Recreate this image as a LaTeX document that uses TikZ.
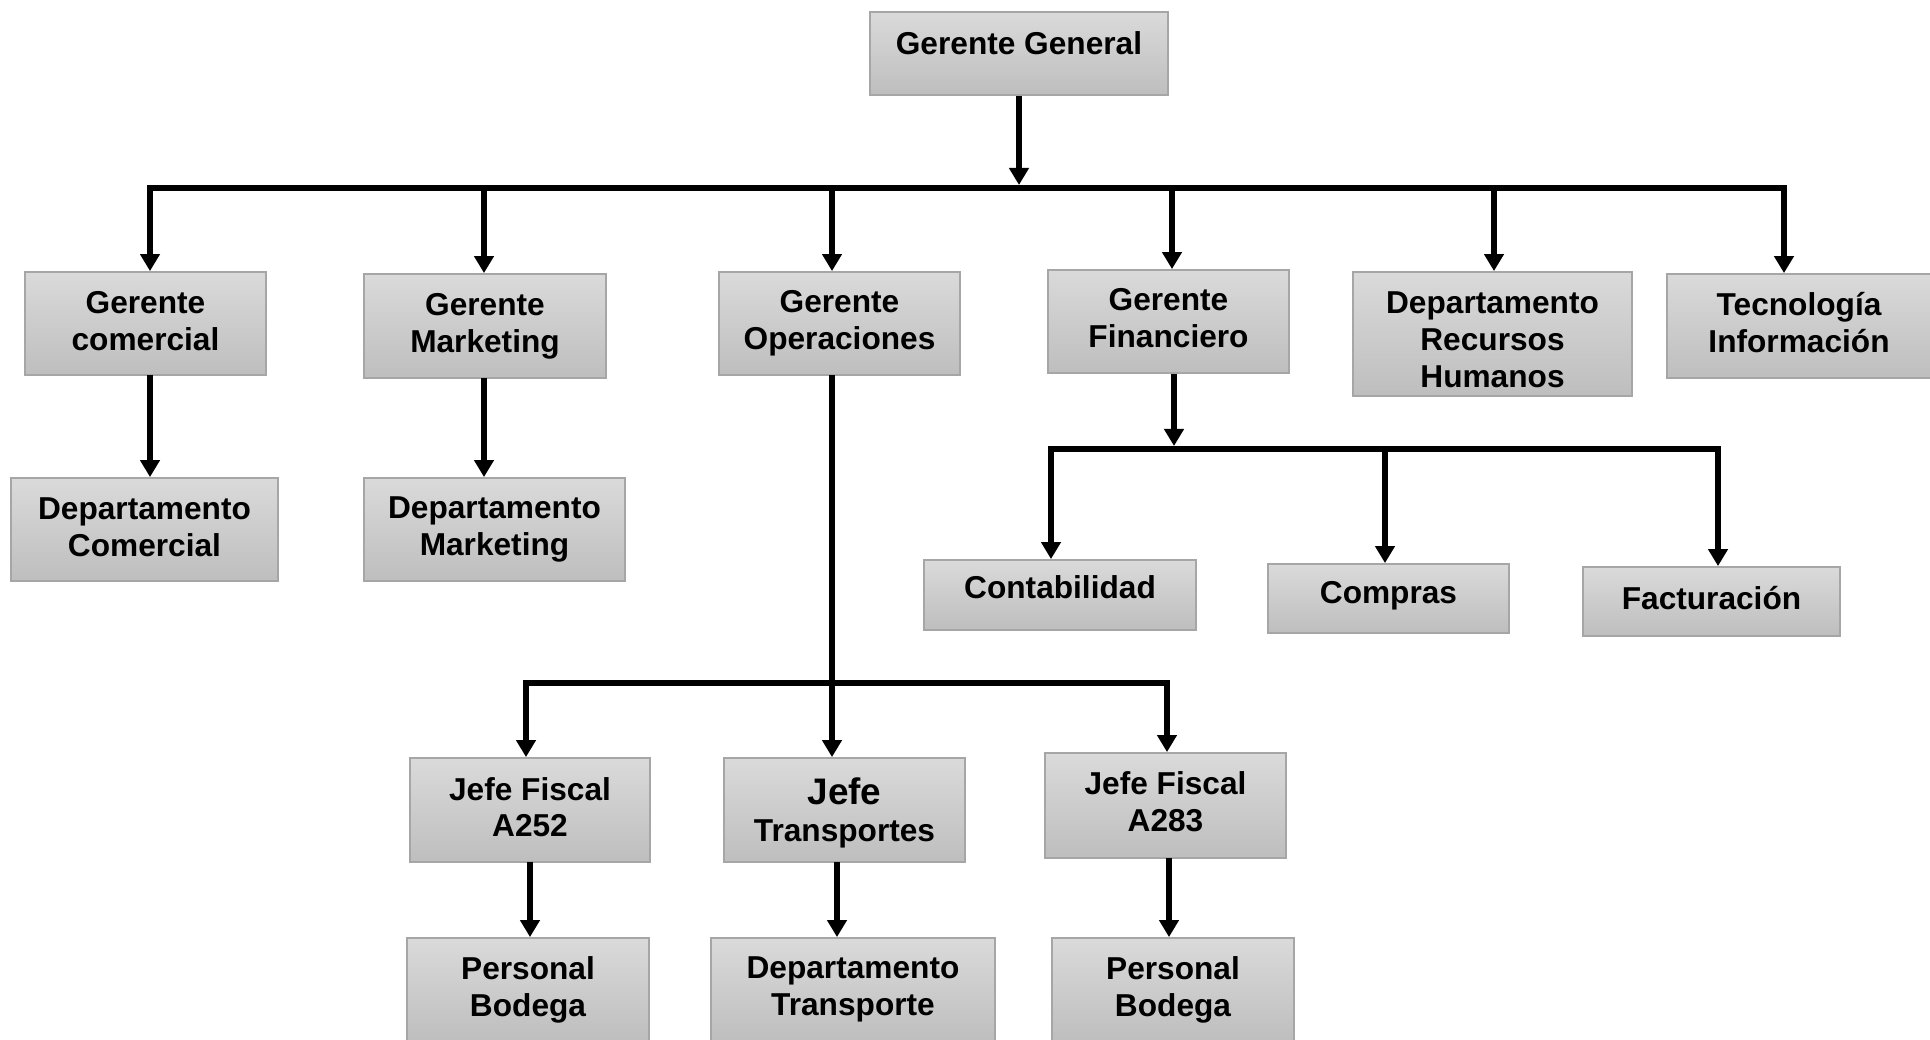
\documentclass[tikz,border=0pt]{standalone}
\usepackage{fontspec}
\setmainfont{Liberation Sans}
\usetikzlibrary{arrows.meta}

\definecolor{boxtop}{HTML}{DADADA}
\definecolor{boxbot}{HTML}{BEBEBE}
\definecolor{boxline}{HTML}{A6A6A6}

\begin{document}
\begin{tikzpicture}[x=0.01cm, y=-0.01cm,
	box/.style={draw=boxline, line width=0.5pt, top color=boxtop, bottom color=boxbot,
		align=center, inner sep=2pt, font=\fontsize{9}{10.5}\selectfont\bfseries},
	link/.style={line width=1.7pt, -{Triangle[width=0.19cm,length=0.17cm]}},
	bar/.style={line width=1.7pt, line cap=rect}]
	
	\useasboundingbox (0,0) rectangle (1930,1040);
	
	% top level
	\node[box, minimum width=2.98cm, minimum height=0.83cm, text depth=5.7pt] (GG) at (1019,53.5) {Gerente General};
	
	% gerentes
	\node[box, minimum width=2.41cm, minimum height=1.03cm, text depth=1.4pt] (GC) at (145.5,323.5) {Gerente\\comercial};
	\node[box, minimum width=2.42cm, minimum height=1.04cm] (GM) at (485,326) {Gerente\\Marketing};
	\node[box, minimum width=2.41cm, minimum height=1.03cm] (GO) at (839.5,323.5) {Gerente\\Operaciones};
	\node[box, minimum width=2.41cm, minimum height=1.03cm, text depth=2pt] (GF) at (1168.5,321.5) {Gerente\\Financiero};
	\node[box, minimum width=2.79cm, minimum height=1.24cm] (RH) at (1492.5,334) {\rule{0pt}{9.3pt}Departamento\\Recursos\\Humanos};
	\node[box, minimum width=2.64cm, minimum height=1.04cm, text depth=2pt] (TI) at (1799,326) {Tecnología\\Información};
	
	% departamentos
	\node[box, minimum width=2.67cm, minimum height=1.03cm, text depth=1.4pt] (DC) at (144.5,529.5) {Departamento\\Comercial};
	\node[box, minimum width=2.61cm, minimum height=1.03cm] (DM) at (494.5,529.5) {Departamento\\Marketing};
	
	\node[box, minimum width=2.72cm, minimum height=0.70cm, text depth=4.7pt] (CON) at (1060,595) {Contabilidad};
	\node[box, minimum width=2.41cm, minimum height=0.69cm, text depth=3.3pt] (COM) at (1388.5,598.5) {Compras};
	\node[box, minimum width=2.57cm, minimum height=0.69cm, text depth=2pt] (FAC) at (1711.5,601.5) {Facturación};
	
	% jefes
	\node[box, minimum width=2.40cm, minimum height=1.04cm, text depth=1.7pt] (JF1) at (530,810) {Jefe Fiscal\\A252};
	\node[box, minimum width=2.41cm, minimum height=1.04cm, text depth=0pt] (JT) at (844.5,810) {{\fontsize{10.5}{12}\selectfont Jefe}\\Transportes};
	\node[box, minimum width=2.41cm, minimum height=1.05cm, text depth=2pt] (JF2) at (1165.5,805.5) {Jefe Fiscal\\A283};
	
	\node[box, minimum width=2.42cm, minimum height=1.03cm] (PB1) at (528,989.5) {Personal\\Bodega};
	\node[box, minimum width=2.84cm, minimum height=1.03cm] (DT) at (853,989.5) {Departamento\\Transporte};
	\node[box, minimum width=2.42cm, minimum height=1.03cm] (PB2) at (1173,989.5) {Personal\\Bodega};
	
	% bars
	\coordinate (t1) at (150,188);
	\coordinate (t2) at (484,188);
	\coordinate (t3) at (832,188);
	\coordinate (t4) at (1172,188);
	\coordinate (t5) at (1494,188);
	\coordinate (t6) at (1784,188);
	
	\coordinate (f0) at (1174,449);
	\coordinate (f1) at (1051,449);
	\coordinate (f2) at (1385,449);
	\coordinate (f3) at (1718,449);
	
	\coordinate (o0) at (832,375);
	\coordinate (o1) at (526,683);
	\coordinate (o2) at (832,683);
	\coordinate (o3) at (1167,683);
	
	\coordinate (c1) at (150,375);
	\coordinate (m1) at (484,378);
	\coordinate (b1) at (530,862);
	\coordinate (b2) at (837,862);
	\coordinate (b3) at (1169,858);
	
	\draw[bar] (t1) -- (t6);
	\draw[bar] (f1) -- (f3);
	\draw[bar] (o1) -- (o3);
	
	\draw[link, shorten >=0.03cm] (GG.south) -- (GG.south |- t1);
	\foreach \p/\n in {t1/GC, t2/GM, t3/GO, t4/GF, t5/RH, t6/TI}
		\draw[link] (\p) -- (\p |- \n.north);
	
	\draw[link] (c1) -- (c1 |- DC.north);
	\draw[link] (m1) -- (m1 |- DM.north);
	
	\draw[link, shorten >=0.03cm] (f0 |- GF.south) -- (f0);
	\foreach \p/\n in {f1/CON, f2/COM, f3/FAC}
		\draw[link] (\p) -- (\p |- \n.north);
	
	\draw[link] (o0) -- (o0 |- JT.north);
	\draw[link] (o1) -- (o1 |- JF1.north);
	\draw[link] (o3) -- (o3 |- JF2.north);
	
	\draw[link] (b1) -- (b1 |- PB1.north);
	\draw[link] (b2) -- (b2 |- DT.north);
	\draw[link] (b3) -- (b3 |- PB2.north);
	
\end{tikzpicture}
\end{document}
